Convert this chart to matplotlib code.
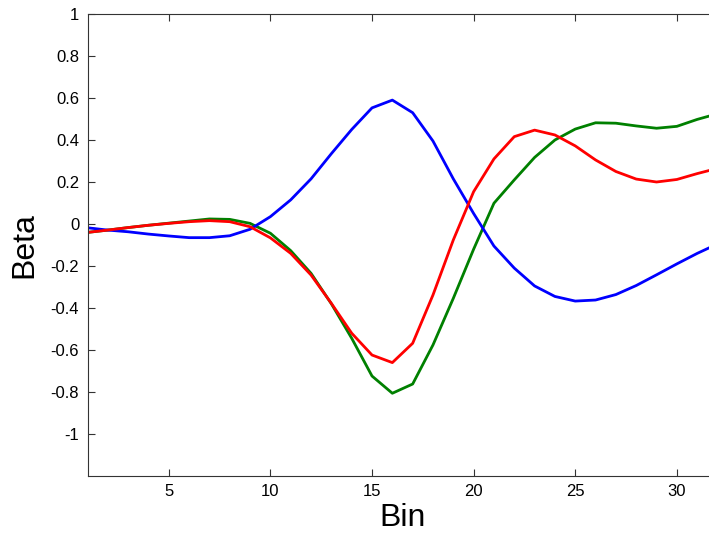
import matplotlib
matplotlib.use("Agg")
import matplotlib.pyplot as plt

bins = list(range(1, 33))
blue = [-0.018, -0.029, -0.037, -0.048, -0.057, -0.065, -0.065, -0.056, -0.025, 0.035,
        0.115, 0.215, 0.335, 0.45, 0.553, 0.59, 0.53, 0.395, 0.215, 0.05,
        -0.105, -0.21, -0.295, -0.345, -0.367, -0.362, -0.336, -0.293, -0.242, -0.19,
        -0.14, -0.095]
red = [-0.04, -0.029, -0.017, -0.006, 0.003, 0.011, 0.016, 0.011, -0.013, -0.066,
       -0.14, -0.243, -0.378, -0.52, -0.624, -0.66, -0.568, -0.338, -0.076, 0.154,
       0.31, 0.416, 0.447, 0.424, 0.372, 0.305, 0.25, 0.214, 0.2, 0.212,
       0.24, 0.265]
green = [-0.04, -0.029, -0.017, -0.006, 0.004, 0.014, 0.024, 0.022, 0.003, -0.044,
         -0.127, -0.235, -0.38, -0.544, -0.724, -0.806, -0.762, -0.576, -0.354, -0.12,
         0.099, 0.21, 0.317, 0.40, 0.452, 0.482, 0.48, 0.467, 0.456, 0.465,
         0.498, 0.525]

xticks = [5, 10, 15, 20, 25, 30]
yticks = [-1, -0.8, -0.6, -0.4, -0.2, 0, 0.2, 0.4, 0.6, 0.8, 1]
ytick_labels = ["-1", "-0.8", "-0.6", "-0.4", "-0.2", "0", "0.2", "0.4", "0.6", "0.8", "1"]

plt.rcParams['font.family'] = ['Liberation Sans', 'DejaVu Sans']

fig = plt.figure(figsize=(7.09, 5.35), dpi=100)
ax = fig.add_axes([87.5/709, 59/535, 630/709, 462/535])

ax.plot(bins, green, color=(0, 0.5, 0), lw=2.0)
ax.plot(bins, blue, color=(0, 0, 1), lw=2.0)
ax.plot(bins, red, color=(1, 0, 0), lw=2.0)

ax.set_xlim(1, 32)
ax.set_ylim(-1.2, 1)
ax.set_xticks(xticks)
ax.set_xticklabels([str(t) for t in xticks])
ax.set_yticks(yticks)
ax.set_yticklabels(ytick_labels)
ax.tick_params(direction='in', length=5, width=0.8, labelsize=12, colors='#333333',
               labelcolor='black', top=True, right=True, pad=6)
for s in ax.spines.values():
    s.set_color('#333333')
    s.set_linewidth(0.8)

ax.set_xlabel("Bin", fontsize=23, labelpad=3)
ax.set_ylabel("Beta", fontsize=23, labelpad=8)

fig.savefig("out.png", dpi=100)
